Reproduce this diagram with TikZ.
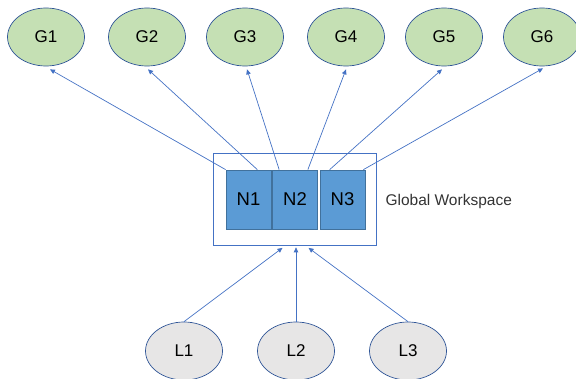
\documentclass[tikz,border=0pt]{standalone}
\usepackage{fontspec}
\setmainfont{Liberation Sans}
\usetikzlibrary{arrows.meta,shapes.geometric}
\definecolor{gfill}{HTML}{C5E0B4}
\definecolor{lfill}{HTML}{E7E6E6}
\definecolor{nfill}{HTML}{5B9BD5}
\definecolor{nline}{HTML}{41719C}
\definecolor{oline}{HTML}{2F5597}
\definecolor{link}{HTML}{4472C4}
\tikzset{
  goal/.style={ellipse, draw=oline, line width=0.7pt, fill=gfill,
    minimum width=77pt, minimum height=58pt, inner sep=0pt, font=\fontsize{17}{17}\selectfont},
  leaf/.style={ellipse, draw=oline, line width=0.7pt, fill=lfill,
    minimum width=77pt, minimum height=58pt, inner sep=0pt, font=\fontsize{17}{17}\selectfont},
  slot/.style={rectangle, draw=nline, line width=0.7pt, fill=nfill,
    minimum width=45pt, minimum height=59pt, inner sep=0pt, font=\fontsize{18.5}{18.5}\selectfont},
  frame/.style={rectangle, draw=link, line width=0.7pt,
    minimum width=163pt, minimum height=92pt, inner sep=0pt},
  link/.style={draw=link, line width=0.7pt},
  tip/.style={link, -{Triangle[length=5pt,width=4.5pt]}}
}
\begin{document}
\begin{tikzpicture}[x=1pt,y=-1pt]
\useasboundingbox (0,0) rectangle (576,379);
% workspace frame and its three slots
\node[frame] (ws) at (294.5,199) {};
\node[slot] (n1) at (248.5,199.5) {N1};
\node[slot] (n2) at (295,199.5) {N2};
\node[slot] (n3) at (342.5,199.5) {N3};
\node[anchor=west, font=\fontsize{15.5}{15.5}\selectfont, text=black!80] (gwl) at (382,201) {Global Workspace};
% goal nodes
\node[goal] (g1) at (46,37) {G1};
\node[goal] (g2) at (147,37) {G2};
\node[goal] (g3) at (245,37) {G3};
\node[goal] (g4) at (346,37) {G4};
\node[goal] (g5) at (444,37) {G5};
\node[goal] (g6) at (542,37) {G6};
% input nodes
\node[leaf] (l1) at (184,351) {L1};
\node[leaf] (l2) at (296,351) {L2};
\node[leaf] (l3) at (408,351) {L3};
% arrow ends just below each goal node
\coordinate (t1) at ([xshift=4pt,yshift=-3pt]g1.south);
\coordinate (t2) at ([xshift=1pt,yshift=-3pt]g2.south);
\coordinate (t3) at ([xshift=2pt,yshift=-3pt]g3.south);
\coordinate (t4) at ([xshift=0pt,yshift=-3pt]g4.south);
\coordinate (t5) at ([xshift=-2pt,yshift=-3pt]g5.south);
\coordinate (t6) at ([xshift=1pt,yshift=-2pt]g6.south);
% broadcast links
\draw[tip] (n1.north west) -- (t1);
\draw[tip] ([xshift=-14pt]n1.north east) -- (t2);
\draw[tip] ([xshift=7pt]n2.north west) -- (t3);
\draw[tip] ([xshift=-10pt]n2.north east) -- (t4);
\draw[tip] ([xshift=10pt]n3.north west) -- (t5);
\draw[tip] ([xshift=-2pt]n3.north east) -- (t6);
% input links
\coordinate (in1) at ([xshift=-12pt,yshift=-2.5pt]ws.south);
\coordinate (in2) at ([xshift=1.5pt,yshift=-2pt]ws.south);
\coordinate (in3) at ([xshift=14pt,yshift=-2.5pt]ws.south);
\draw[tip] (l1.north) -- (in1);
\draw[tip] (l2.north) -- (in2);
\draw[tip] (l3.north) -- (in3);
\end{tikzpicture}
\end{document}
